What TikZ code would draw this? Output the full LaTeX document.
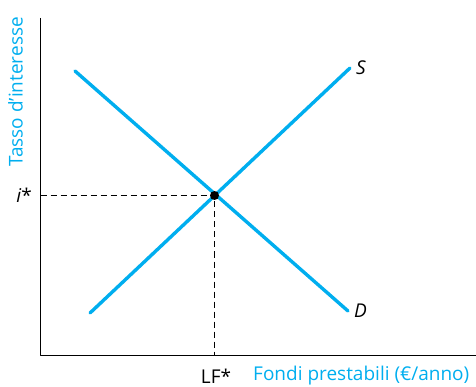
\documentclass[tikz,border=0pt]{standalone}
\usepackage{fontspec}
\setmainfont{Open Sans}
\definecolor{ciano}{RGB}{0,174,239}
\begin{document}
\begin{tikzpicture}[line cap=butt,line join=round,x=1pt,y=-1pt,font=\fontsize{19}{22}\selectfont,
	curva/.style={ciano,line width=3.4pt,line cap=round},
	guida/.style={line width=0.9pt,dash pattern=on 6pt off 4pt}]
	\useasboundingbox (0,0) rectangle (476,387);
	% Assi
	\coordinate (O) at (40.5,355.5);
	\coordinate (Y) at (40.5,18);
	\coordinate (X) at (476,355.5);
	\draw[line width=0.9pt] (Y) -- (O) -- (X);
	% Curve di domanda e offerta
	\coordinate (D1) at (75,71);
	\coordinate (D2) at (348,311);
	\coordinate (S1) at (90,313);
	\coordinate (S2) at (350,68);
	\draw[curva] (D1) -- (D2);
	\draw[curva] (S1) -- (S2);
	% Equilibrio
	\coordinate (E) at (214.5,195.5);
	\coordinate (Ei) at (40.5,195.5);
	\coordinate (Ex) at (214.5,355.5);
	\draw[guida] (Ei) -- (E) -- (Ex);
	\fill (E) circle (4.5pt);
	% Etichette
	\node[anchor=east, inner sep=0pt] (istar) at (32,195) {\textit{i}*};
	\node[inner sep=0pt] (lfstar) at (216,376) {LF*};
	\node[right, inner sep=6pt] (lblS) at (S2) {\textit{S}};
	\node[right, inner sep=6pt] (lblD) at (D2) {\textit{D}};
	\node[ciano, anchor=west, inner sep=0pt] (lblx) at (253,376) {Fondi prestabili (€/anno)};
	\node[ciano, rotate=90, anchor=north east, inner sep=0pt] (lbly) at (8,17) {Tasso d’interesse};
\end{tikzpicture}
\end{document}
